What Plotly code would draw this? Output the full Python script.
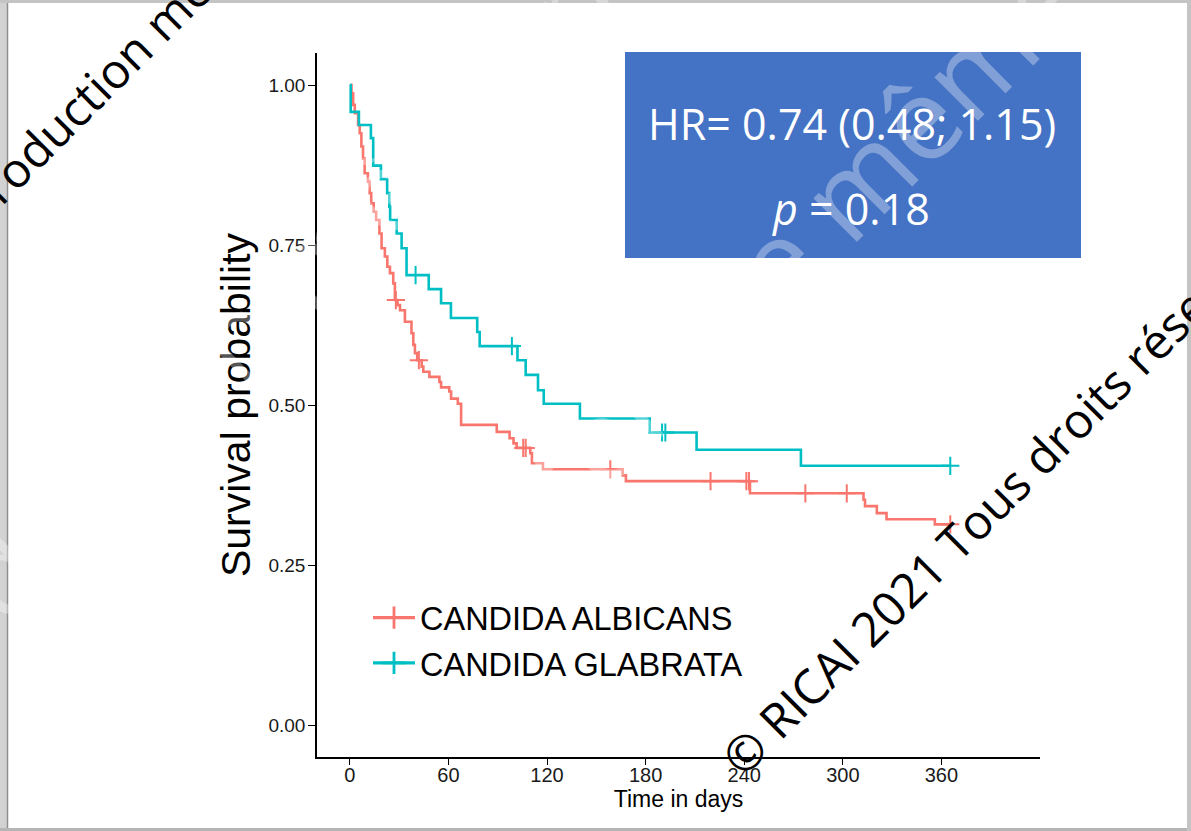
import plotly.graph_objects as go

# ---------------- data ----------------
groups = ["CANDIDA ALBICANS", "CANDIDA GLABRATA"]
colors = ["#F8766D", "#00BFC4"]

x_ticks = [0, 60, 120, 180, 240, 300, 360]
y_ticks = [0.0, 0.25, 0.5, 0.75, 1.0]
y_tick_labels = ["0.00", "0.25", "0.50", "0.75", "1.00"]

albicans_time = [0, 1, 2, 3, 5, 6, 7, 8, 9, 11, 12, 13, 14.5, 16, 18, 19.3, 21.3, 22.8,
                 24.4, 26.4, 27.4, 29, 30.5, 33.5, 37.5, 38.6, 39.6, 41, 43.7, 44.7, 48.4,
                 54.5, 55.5, 60.5, 61.6, 65.7, 67.7, 89.4, 97.2, 99.6, 101.5, 109.8, 110.8,
                 117.5, 166, 168, 243.5, 312.6, 313.5, 320.7, 326.6, 356]
albicans_surv = [1.0, 0.987, 0.969, 0.956, 0.9375, 0.9245, 0.904, 0.885, 0.862, 0.849, 0.831,
                 0.815, 0.802, 0.789, 0.768, 0.745, 0.732, 0.716, 0.706, 0.690, 0.664, 0.656,
                 0.648, 0.630, 0.612, 0.594, 0.581, 0.570, 0.560, 0.552, 0.544, 0.536, 0.5275,
                 0.521, 0.510, 0.502, 0.469, 0.458, 0.448, 0.440, 0.433, 0.4245, 0.409, 0.3995,
                 0.390, 0.381, 0.362, 0.352, 0.342, 0.331, 0.3215, 0.3135]
albicans_censor = [28, 42, 105.5, 107, 158.5, 219.5, 241.3, 242.9, 277.2, 302.4, 365.4]

glabrata_time = [0, 0.5, 5.5, 12.8, 14.2, 18.9, 22.7, 24, 24.5, 28.5, 31.5, 34.5, 48, 55.5,
                 61.5, 77.5, 79, 102, 107, 114.5, 118, 140, 182.5, 211, 274.5]
glabrata_surv = [1.0, 0.958, 0.9375, 0.917, 0.874, 0.853, 0.831, 0.810, 0.789, 0.768, 0.745,
                 0.703, 0.681, 0.659, 0.636, 0.614, 0.592, 0.570, 0.547, 0.523, 0.502, 0.479,
                 0.457, 0.430, 0.405]
glabrata_censor = [40, 98.6, 190, 192, 365.4]

hr_text = "HR= 0.74 (0.48; 1.15)"
p_text = "<i>p</i> = 0.18"
x_title = "Time in days"
y_title = "Survival probability"
watermark_main = "© RICAI 2021 Tous droits réservés"
watermark_top = "Reproduction même partielle interdite"
watermark_faint = "interdite même partielle"
watermark_faint2 = "Reproduction même partielle"

# ---------------- layout geometry (pixels) ----------------
W, H = 1191, 831
PL, PR, PT, PB = 317, 1040, 53, 757


def px(xp):
    return (xp - PL) / (PR - PL)


def py(yp):
    return (PB - yp) / (PB - PT)


def step_value(times, surv, t):
    v = surv[0]
    for ti, si in zip(times, surv):
        if ti <= t:
            v = si
    return v


fig = go.Figure()

series = [
    (albicans_time, albicans_surv, albicans_censor),
    (glabrata_time, glabrata_surv, glabrata_censor),
]

for (times, surv, cens), name, col in zip(series, groups, colors):
    xend = max(cens)
    fig.add_trace(go.Scatter(
        x=list(times) + [xend], y=list(surv) + [surv[-1]],
        mode="lines", line=dict(color=col, width=2.6, shape="hv"),
        showlegend=False, hoverinfo="skip"))
    fig.add_trace(go.Scatter(
        x=cens, y=[step_value(times, surv, c) for c in cens],
        mode="markers",
        marker=dict(symbol="cross-thin", size=13, line=dict(color=col, width=2)),
        showlegend=False, hoverinfo="skip"))

for name, col in zip(groups, colors):
    fig.add_trace(go.Scatter(
        x=[None], y=[None], name=name, mode="lines+markers",
        line=dict(color=col, width=3.2),
        marker=dict(symbol="cross-thin", size=17, line=dict(color=col, width=2.8))))

shapes = [
    # blue statistics box
    dict(type="rect", xref="paper", yref="paper",
         x0=px(625), x1=px(1081), y0=py(258), y1=py(52),
         fillcolor="#4472C4", line=dict(width=0), layer="above"),
    # slide frame
    dict(type="rect", xref="paper", yref="paper", x0=px(0), x1=px(7), y0=py(H), y1=py(0),
         fillcolor="#d2d2d2", line=dict(width=0), layer="above"),
    dict(type="line", xref="paper", yref="paper", x0=px(7.5), x1=px(7.5), y0=py(828), y1=py(3),
         line=dict(color="#8f8f8f", width=1.5), layer="above"),
    dict(type="rect", xref="paper", yref="paper", x0=px(0), x1=px(W), y0=py(3), y1=py(0),
         fillcolor="#c4c4c4", line=dict(width=0), layer="above"),
    dict(type="rect", xref="paper", yref="paper", x0=px(0), x1=px(W), y0=py(H), y1=py(828),
         fillcolor="#b5b5b5", line=dict(width=0), layer="above"),
    dict(type="rect", xref="paper", yref="paper", x0=px(1187), x1=px(W), y0=py(H), y1=py(0),
         fillcolor="#c4c4c4", line=dict(width=0), layer="above"),
]

faint = "rgba(255,255,255,0.33)"
annotations = [
    dict(text=watermark_faint, x=px(932), y=py(103), xref="paper", yref="paper",
         textangle=-45, showarrow=False, xanchor="center", yanchor="middle",
         font=dict(family="Open Sans", size=115, color=faint)),
    dict(text=watermark_faint2, x=px(300), y=py(270), xref="paper", yref="paper",
         textangle=-45, showarrow=False, xanchor="center", yanchor="middle",
         font=dict(family="Open Sans", size=115, color=faint)),
    dict(text=hr_text, x=px(852), y=py(123), xref="paper", yref="paper",
         showarrow=False, xanchor="center", yanchor="middle",
         font=dict(family="Open Sans", size=43, color="white")),
    dict(text=p_text, x=px(851), y=py(209), xref="paper", yref="paper",
         showarrow=False, xanchor="center", yanchor="middle",
         font=dict(family="Open Sans", size=43, color="white")),
    dict(text=watermark_main, x=px(997), y=py(498), xref="paper", yref="paper",
         textangle=-45, showarrow=False, xanchor="center", yanchor="middle",
         font=dict(family="Open Sans", size=48, color="black")),
    dict(text=watermark_top, x=px(231), y=py(-49), xref="paper", yref="paper",
         textangle=-45, showarrow=False, xanchor="center", yanchor="middle",
         font=dict(family="Open Sans", size=48, color="black")),
]

fig.update_layout(
    width=W, height=H,
    margin=dict(l=PL, r=W - PR, t=PT, b=H - PB, autoexpand=False),
    paper_bgcolor="white", plot_bgcolor="white",
    font=dict(family="Liberation Sans, Arial, sans-serif", color="black"),
    xaxis=dict(range=[-20, 420], tickvals=x_ticks, showgrid=False, zeroline=False,
               showline=True, linecolor="black", linewidth=1.6,
               ticks="outside", ticklen=6, tickwidth=1.4, tickcolor="black",
               ticklabelstandoff=-7,
               tickfont=dict(size=20, color="#1a1a1a"),
               title=dict(text=x_title, font=dict(size=23), standoff=2)),
    yaxis=dict(range=[-0.05, 1.05], tickvals=y_ticks, ticktext=y_tick_labels,
               showgrid=False, zeroline=False,
               showline=True, linecolor="black", linewidth=1.6,
               ticks="outside", ticklen=7, tickwidth=1.4, tickcolor="black",
               ticklabelstandoff=-1,
               tickfont=dict(size=19, color="#1a1a1a"),
               title=dict(text=y_title, font=dict(size=41), standoff=5)),
    legend=dict(x=px(368), y=py(590), xanchor="left", yanchor="top",
                bgcolor="rgba(0,0,0,0)", borderwidth=0, itemwidth=42,
                font=dict(size=32.5, color="black"), tracegroupgap=0),
    shapes=shapes,
    annotations=annotations,
    showlegend=True,
)

fig.write_html("out.html", config={"displayModeBar": False},
               post_script="document.body.style.margin='0px';")
